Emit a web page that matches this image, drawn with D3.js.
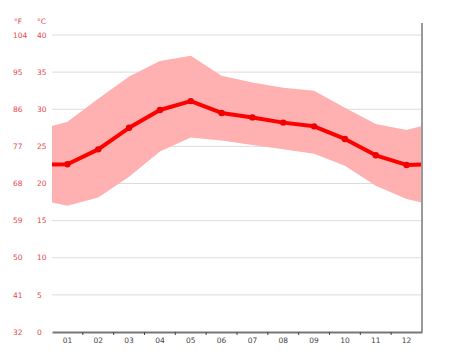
<!DOCTYPE html>
<html><head><meta charset="utf-8">
<script src="https://cdn.jsdelivr.net/npm/d3@7"></script>
<style>html,body{margin:0;padding:0;background:#fff;}svg{display:block;}</style>
</head><body>
<svg id="c" width="474" height="355"></svg>
<script>
const months = ["01","02","03","04","05","06","07","08","09","10","11","12"];
const tMean = [22.6, 24.6, 27.5, 29.9, 31.1, 29.5, 28.9, 28.2, 27.7, 26.0, 23.8, 22.5];
const tMax  = [28.3, 31.4, 34.4, 36.5, 37.2, 34.5, 33.6, 32.9, 32.5, 30.2, 28.0, 27.2];
const tMin  = [17.0, 18.1, 20.9, 24.3, 26.2, 25.8, 25.2, 24.6, 24.0, 22.4, 19.7, 17.9];
const cTicks = [0, 5, 10, 15, 20, 25, 30, 35, 40];
const fTicks = ["32", "41", "50", "59", "68", "77", "86", "95", "104"];

const svg = d3.select("#c");
const L = 52, R = 422, T = 35, B = 332;
const x = d3.scaleLinear().domain([0, 12]).range([L, R]);
const y = d3.scaleLinear().domain([0, 40]).range([B, T]);
const font = "DejaVu Sans, sans-serif";
const labelColor = "#e84848";

// gridlines
svg.append("g").selectAll("line").data(cTicks.filter(d => d > 0)).join("line")
  .attr("x1", L).attr("x2", R).attr("y1", d => y(d)).attr("y2", d => y(d))
  .attr("stroke", "#dcdcdc").attr("stroke-width", 1);

// wrap points: edges are midpoints between Dec and Jan
const wrap = arr => (arr[0] + arr[11]) / 2;
const idx = d3.range(12);
const bandData = [{i: -0.5, lo: wrap(tMin), hi: wrap(tMax)}]
  .concat(idx.map(i => ({i, lo: tMin[i], hi: tMax[i]})))
  .concat([{i: 11.5, lo: wrap(tMin), hi: wrap(tMax)}]);
const meanData = [{i: -0.5, v: wrap(tMean)}]
  .concat(idx.map(i => ({i, v: tMean[i]})))
  .concat([{i: 11.5, v: wrap(tMean)}]);
const xi = i => x(i + 0.5);

svg.append("path").datum(bandData)
  .attr("d", d3.area().x(d => xi(d.i)).y0(d => y(d.lo)).y1(d => y(d.hi)))
  .attr("fill", "#ffb0b0");

svg.append("path").datum(meanData)
  .attr("d", d3.line().x(d => xi(d.i)).y(d => y(d.v)))
  .attr("fill", "none").attr("stroke", "#f00").attr("stroke-width", 4)
  .attr("stroke-linejoin", "round");

svg.append("g").selectAll("circle").data(idx).join("circle")
  .attr("cx", i => xi(i)).attr("cy", i => y(tMean[i])).attr("r", 3.2)
  .attr("fill", "#e00");

// right border
svg.append("line").attr("x1", R).attr("x2", R).attr("y1", 23).attr("y2", B)
  .attr("stroke", "#999").attr("stroke-width", 2);

// bottom axis
const xb = d3.scaleBand().domain(months).range([L, R]);
const ax = svg.append("g").attr("transform", `translate(0,${B})`)
  .call(d3.axisBottom(xb).tickSize(0).tickPadding(6));
ax.select(".domain").attr("stroke", "#777").attr("stroke-width", 2);
ax.selectAll("text").attr("font-family", font).attr("font-size", 7.5).attr("fill", "#444");
svg.append("g").selectAll("line").data(d3.range(1, 12)).join("line")
  .attr("x1", d => x(d)).attr("x2", d => x(d)).attr("y1", B).attr("y2", B + 3)
  .attr("stroke", "#444").attr("stroke-width", 1);

// y labels
const yl = svg.append("g").attr("font-family", font).attr("font-size", 7.5).attr("fill", labelColor);
yl.selectAll("text.c").data(cTicks).join("text").attr("class", "c")
  .attr("x", 37).attr("y", d => y(d)).attr("dy", "0.35em").text(d => d);
yl.selectAll("text.f").data(cTicks).join("text").attr("class", "f")
  .attr("x", 13).attr("y", d => y(d)).attr("dy", "0.35em").text((d, i) => fTicks[i]);
yl.append("text").attr("x", 14).attr("y", 21).attr("dy", "0.35em").text("°F");
yl.append("text").attr("x", 37).attr("y", 21).attr("dy", "0.35em").text("°C");
</script>
</body></html>
